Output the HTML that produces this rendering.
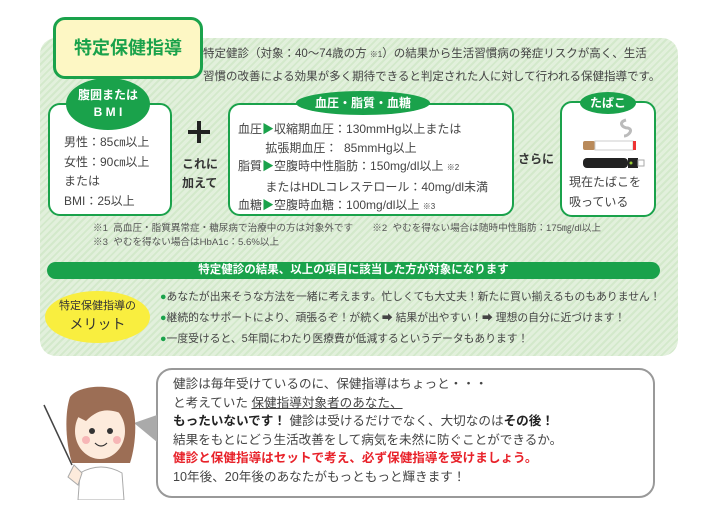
<!DOCTYPE html>
<html><head><meta charset="utf-8"><style>
*{margin:0;padding:0;box-sizing:border-box}
body{width:705px;height:507px;background:#fff;position:relative;overflow:hidden;font-family:"Liberation Sans","Noto Sans CJK JP",sans-serif;color:#444}
.a{position:absolute;white-space:nowrap}
.panel{left:40px;top:38px;width:638px;height:318px;border-radius:16px;background:repeating-linear-gradient(135deg,#e2f0dc 0 3px,#d3e9cb 3px 5px)}
.box{background:#fff;border:2.5px solid #1aa24b;border-radius:12px}
.pill{background:#1aa24b;color:#fff;font-weight:bold;text-align:center;border-radius:50%}
.t{font-size:12.5px;line-height:20px;color:#444}
</style></head><body>
<div class="a panel"></div>
<div class="a" style="left:53px;top:17px;width:150px;height:62px;background:#fdf7c4;border:3px solid #1aa24b;border-radius:12px;font-size:18px;font-weight:bold;color:#1aa24b;text-align:center;line-height:56px">特定保健指導</div>
<div class="a t" style="left:203px;top:43px;line-height:22px;font-size:11.5px">特定健診（対象：40～74歳の方 <span style="font-size:8px">※1</span>）の結果から生活習慣病の発症リスクが高く、生活<br>習慣の改善による効果が多く期待できると判定された人に対して行われる保健指導です。</div>

<div class="a box" style="left:48px;top:103px;width:124px;height:113px"></div>
<div class="a pill" style="left:66px;top:78px;width:84px;height:52px;font-size:12px;line-height:17px;padding-top:9px;border-radius:50%">腹囲または<br>B M I</div>
<div class="a t" style="left:64px;top:133px;line-height:19.5px;font-size:12px">男性：85㎝以上<br>女性：90㎝以上<br>または<br>BMI：25以上</div>

<div class="a" style="left:188px;top:130px;width:22px;height:4px;background:#222"></div>
<div class="a" style="left:197px;top:121px;width:4px;height:22px;background:#222"></div>
<div class="a" style="left:182px;top:155px;font-size:12px;font-weight:bold;line-height:19px;color:#333">これに<br>加えて</div>

<div class="a box" style="left:228px;top:103px;width:286px;height:113px"></div>
<div class="a pill" style="left:296px;top:91px;width:134px;height:24px;font-size:12px;line-height:24px">血圧・脂質・血糖</div>
<div class="a t" style="left:238px;top:120px;font-size:12px;line-height:18.5px">血圧<span style="color:#1aa24b">▶</span>収縮期血圧：130mmHg以上または<br>　　&nbsp;拡張期血圧：&nbsp;&nbsp;85mmHg以上<br>脂質<span style="color:#1aa24b">▶</span>空腹時中性脂肪：150mg/dl以上 <span style="font-size:8px">※2</span><br>　　&nbsp;またはHDLコレステロール：40mg/dl未満<br>血糖<span style="color:#1aa24b">▶</span>空腹時血糖：100mg/dl以上 <span style="font-size:8px">※3</span></div>

<div class="a" style="left:518px;top:150px;font-size:12px;font-weight:bold;color:#333">さらに</div>

<div class="a box" style="left:560px;top:101px;width:96px;height:116px"></div>
<div class="a pill" style="left:580px;top:92px;width:56px;height:22px;font-size:12px;line-height:22px">たばこ</div>
<svg class="a" style="left:578px;top:118px" width="70" height="55">
<path d="M48 2 C40 4 44 10 50 10 C56 12 50 18 46 18" stroke="#bbb" stroke-width="3" fill="none"/>
<rect x="5" y="23" width="12" height="9" rx="2" fill="#b98a5a"/><rect x="17" y="23" width="38" height="9" fill="#fff" stroke="#ccc"/><rect x="55" y="23" width="3" height="9" fill="#e33"/>
<rect x="5" y="40" width="45" height="10" rx="4" fill="#222"/><rect x="50" y="40" width="10" height="10" fill="#222"/><rect x="60" y="42" width="6" height="6" fill="#fff" stroke="#aaa"/><circle cx="53" cy="45" r="1.5" fill="#9c3"/>
</svg>
<div class="a t" style="left:569px;top:172px;font-size:12px;line-height:20px">現在たばこを<br>吸っている</div>

<div class="a" style="left:93px;top:222px;font-size:9.6px;line-height:14px;color:#555">※1&nbsp;&nbsp;高血圧・脂質異常症・糖尿病で治療中の方は対象外です　　※2&nbsp;&nbsp;やむを得ない場合は随時中性脂肪：175㎎/dl以上<br>※3&nbsp;&nbsp;やむを得ない場合はHbA1c：5.6%以上</div>

<div class="a" style="left:47px;top:262px;width:613px;height:17px;background:#1aa24b;border-radius:9px;color:#fff;font-size:11.5px;font-weight:bold;text-align:center;line-height:17px">特定健診の結果、以上の項目に該当した方が対象になります</div>
<div class="a" style="left:45px;top:291px;width:105px;height:52px;background:#f9ee3f;border-radius:50%;text-align:center;color:#333;font-size:11px;line-height:18px;padding-top:6px">特定保健指導の<br><span style="font-size:14px">メリット</span></div>
<div class="a t" style="left:160px;top:287px;font-size:10.8px;line-height:21px;color:#444"><span style="color:#1aa24b">●</span>あなたが出来そうな方法を一緒に考えます。忙しくても大丈夫！新たに買い揃えるものもありません！<br><span style="color:#1aa24b">●</span>継続的なサポートにより、頑張るぞ！が続く➡ 結果が出やすい！➡ 理想の自分に近づけます！<br><span style="color:#1aa24b">●</span>一度受けると、5年間にわたり医療費が低減するというデータもあります！</div>

<div class="a" style="left:156px;top:368px;width:499px;height:130px;border:2.5px solid #999;border-radius:16px;background:#fff"></div>
<svg class="a" style="left:134px;top:415px" width="25" height="30"><polygon points="0,8 23,0 23,27" fill="#aaa"/></svg>
<div class="a" style="left:173px;top:375px;font-size:12.6px;line-height:18.5px;color:#444">健診は毎年受けているのに、保健指導はちょっと・・・<br>と考えていた <u>保健指導対象者のあなた、</u><br><b style="color:#222">もったいないです！</b> 健診は受けるだけでなく、大切なのは<b style="color:#222">その後！</b><br>結果をもとにどう生活改善をして病気を未然に防ぐことができるか。<br><b style="color:#e8222a">健診と保健指導はセットで考え、必ず保健指導を受けましょう。</b><br>10年後、20年後のあなたがもっともっと輝きます！</div>

<svg class="a" style="left:30px;top:385px" width="110" height="115">
<line x1="14" y1="20" x2="42" y2="80" stroke="#444" stroke-width="1.5"/>
<path d="M40 12 C50 -2 92 -2 100 14 C108 30 106 60 100 78 L42 78 C36 60 34 30 40 12Z" fill="#9c6e55"/>
<ellipse cx="70" cy="46" rx="25" ry="28" fill="#fdebdc"/>
<path d="M44 30 C52 14 78 12 96 30 C80 24 70 22 56 36Z" fill="#9c6e55"/>
<circle cx="62" cy="46" r="3" fill="#333"/><circle cx="80" cy="46" r="3" fill="#333"/>
<circle cx="56" cy="55" r="4" fill="#f7b6b6"/><circle cx="87" cy="55" r="4" fill="#f7b6b6"/>
<path d="M65 58 Q71 64 77 58" stroke="#333" fill="none" stroke-width="1.2"/>
<path d="M48 115 L50 88 Q71 76 92 88 L94 115Z" fill="#fff" stroke="#aaa"/>
<path d="M44 80 L52 88 L48 100 L38 92Z" fill="#fdebdc" stroke="#aaa"/>
</svg>
</body></html>
